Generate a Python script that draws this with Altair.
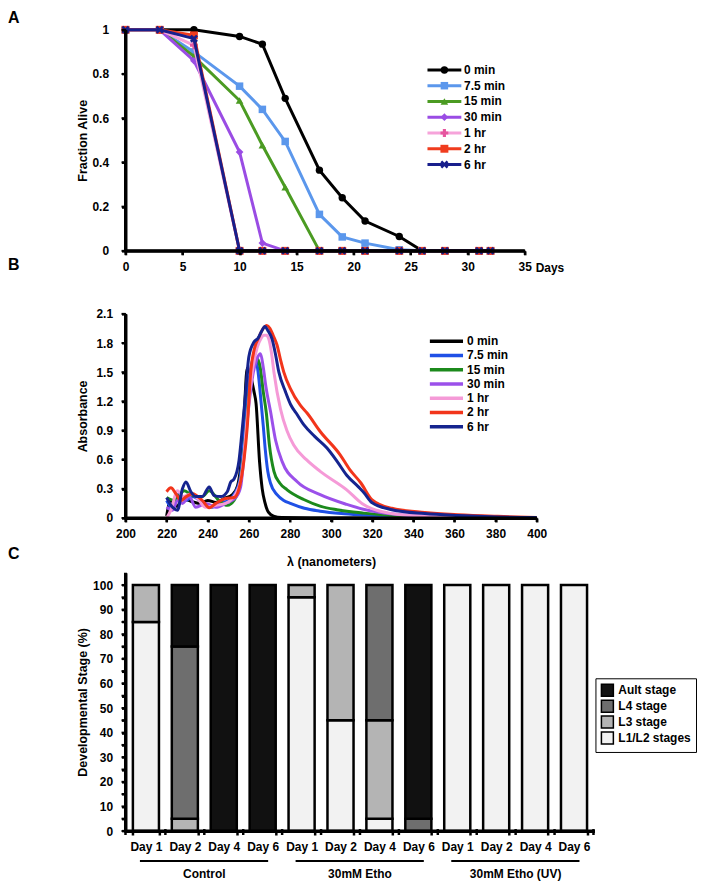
import altair as alt
import pandas as pd

FONT = "Liberation Sans"

# ---------------- Panel A : survival ----------------
days = [0, 3, 6, 10, 12, 14, 17, 19, 21, 24, 26, 28, 31, 32]
series_a = ["0 min", "7.5 min", "15 min", "30 min", "1 hr", "2 hr", "6 hr"]
alive_0min = [1, 1, 1.0, 0.97, 0.935, 0.69, 0.365, 0.24, 0.135, 0.065, 0, 0, 0, 0]
alive_7_5min = [1, 1, 0.9, 0.745, 0.64, 0.495, 0.165, 0.063, 0.035, 0.005, 0, 0, 0, 0]
alive_15min = [1, 1, 0.88, 0.68, 0.478, 0.288, 0, 0, 0, 0, 0, 0, 0, 0]
alive_30min = [1, 1, 0.86, 0.447, 0.035, 0, 0, 0, 0, 0, 0, 0, 0, 0]
alive_1hr = [1, 1, 0.93, 0, 0, 0, 0, 0, 0, 0, 0, 0, 0, 0]
alive_2hr = [1, 1, 0.975, 0, 0, 0, 0, 0, 0, 0, 0, 0, 0, 0]
alive_6hr = [1, 1, 0.96, 0, 0, 0, 0, 0, 0, 0, 0, 0, 0, 0]
alive_all = [alive_0min, alive_7_5min, alive_15min, alive_30min, alive_1hr, alive_2hr, alive_6hr]
ticks_days = [0, 5, 10, 15, 20, 25, 30, 35]
ticks_alive = [0, 0.2, 0.4, 0.6, 0.8, 1]

line_colors_a = ["#000000", "#5b97ec", "#4b9b22", "#9a4ce4", "#f6a3da", "#f03c1e", "#181f8c"]
marker_colors_a = ["#000000", "#5b97ec", "#4b9b22", "#9a4ce4", "#e6569f", "#f03c1e", "#181f8c"]
X_PATH = "M-1,-0.55L-0.55,-1L0,-0.45L0.55,-1L1,-0.55L0.45,0L1,0.55L0.55,1L0,0.45L-0.55,1L-1,0.55L-0.45,0Z"
shapes_a = ["circle", "square", "triangle-up", "diamond", "cross", "square", X_PATH]
sizes_a = [55, 65, 45, 55, 75, 55, 60]

# ---------------- Panel B : absorbance spectra ----------------
series_b = ["0 min", "7.5 min", "15 min", "30 min", "1 hr", "2 hr", "6 hr"]
nm_0min = [220, 222, 225, 228, 232, 236, 240, 244, 248, 252, 254.5, 256.5, 257.8, 259.2, 261, 262.5,
           263.5, 265.2, 266.5, 267.8, 269.5, 272, 276, 290, 400]
abs_0min = [0.02, 0.18, 0.12, 0.2, 0.17, 0.15, 0.18, 0.16, 0.2, 0.24, 0.33, 0.65, 1.1, 1.54, 1.45, 1.3,
            1.18, 0.58, 0.3, 0.16, 0.06, 0.02, 0.005, 0.0, 0.0]
nm_7_5min = [220, 223, 226, 229.4, 232.6, 237.4, 242.3, 245.5, 250.3, 253, 255.5, 257, 258.5, 260, 261.5,
             263, 264.5, 266, 267, 268, 269.2, 270.5, 273.7, 277, 280.2, 287, 294.7, 305, 315.7, 330, 350, 400]
abs_7_5min = [0.18, 0.1, 0.25, 0.18, 0.22, 0.16, 0.11, 0.15, 0.18, 0.25, 0.38, 0.65, 1.05, 1.4, 1.6,
              1.66, 1.5, 1.18, 0.95, 0.7, 0.48, 0.36, 0.24, 0.18, 0.15, 0.1, 0.07, 0.045, 0.03, 0.015, 0.006, 0]
nm_15min = [220, 223.7, 228.6, 232.6, 237.4, 240.7, 245.5, 249.5, 252.8, 256, 257.5, 259, 260.5, 262, 264,
            265.5, 267, 268.5, 270, 272.2, 275, 278.6, 286.7, 295, 302.8, 315.7, 330, 350, 400]
abs_15min = [0.21, 0.18, 0.28, 0.23, 0.22, 0.28, 0.18, 0.13, 0.18, 0.39, 0.65, 1.0, 1.35, 1.55, 1.64,
             1.55, 1.3, 1.08, 0.75, 0.48, 0.36, 0.29, 0.19, 0.12, 0.085, 0.05, 0.025, 0.01, 0]
nm_30min = [220, 222.9, 225.3, 227.7, 231, 234.2, 239, 243.9, 248.7, 253.6, 256, 257.5, 259, 260.5, 262,
            264, 265.7, 267, 268.3, 270.5, 273, 276.2, 283.4, 294.7, 307.6, 315.7, 330, 350, 400]
abs_30min = [0.11, 0.08, 0.18, 0.15, 0.22, 0.11, 0.15, 0.11, 0.15, 0.21, 0.32, 0.6, 0.95, 1.25, 1.48,
             1.64, 1.69, 1.55, 1.35, 1.1, 0.8, 0.58, 0.375, 0.24, 0.14, 0.09, 0.04, 0.015, 0]
nm_1hr = [220, 222.1, 225.3, 228, 232, 235, 239, 244, 248.7, 253.6, 256, 257.5, 259, 260.5, 262, 264, 266,
          267.3, 268.5, 269.7, 271, 272.2, 275.4, 278.5, 281.8, 288, 294.7, 307.6, 315, 329.5, 345, 370, 400]
abs_1hr = [0.0, 0.08, 0.28, 0.22, 0.25, 0.2, 0.11, 0.13, 0.15, 0.25, 0.39, 0.62, 0.98, 1.3, 1.55, 1.75, 1.85,
           1.88, 1.88, 1.84, 1.7, 1.5, 1.12, 0.9, 0.75, 0.6, 0.48, 0.29, 0.15, 0.045, 0.02, 0.008, 0]
nm_2hr = [220, 222.1, 224.5, 226.9, 229.5, 232.6, 237.4, 240.7, 243.9, 248.7, 252.8, 255.2, 257.6, 259.2,
          260.9, 262.8, 264.9, 267, 268.7, 270.3, 271.8, 273.7, 275.5, 277, 280.2, 285, 288.3, 294.7, 304.4,
          309, 314.5, 319.8, 329.5, 345.6, 361.7, 381, 400]
abs_2hr = [0.27, 0.31, 0.25, 0.18, 0.22, 0.25, 0.18, 0.105, 0.15, 0.2, 0.21, 0.3, 0.59, 0.93,
           1.5, 1.75, 1.86, 1.95, 1.98, 1.95, 1.88, 1.78, 1.62, 1.5, 1.33, 1.16, 1.08, 0.89, 0.65,
           0.5, 0.36, 0.19, 0.10, 0.057, 0.034, 0.017, 0.005]
nm_6hr = [220, 222.9, 225.3, 227.7, 229.4, 231.8, 234.2, 237.4, 240.7, 243.1, 246.3, 249.5, 251.2, 252.8,
          255.2, 256.5, 258.1, 260, 262.5, 264.5, 266.2, 267.8, 269.2, 271.3, 273, 274.6, 277.8, 280.5, 283,
          286.7, 292, 298, 303, 307.6, 313.3, 316, 319.8, 329.5, 345.6, 361.7, 381, 400]
abs_6hr = [0.21, 0.11, 0.08, 0.30, 0.37, 0.27, 0.22, 0.22, 0.32, 0.23, 0.22, 0.27, 0.37, 0.40,
           0.59, 0.85, 1.21, 1.66, 1.81, 1.85, 1.92, 1.97, 1.93, 1.84, 1.68, 1.5, 1.3, 1.16, 1.08,
           0.96, 0.84, 0.72, 0.58, 0.44, 0.32, 0.26, 0.16, 0.085, 0.045, 0.025, 0.01, 0.005]
nm_all = [nm_0min, nm_7_5min, nm_15min, nm_30min, nm_1hr, nm_2hr, nm_6hr]
abs_all = [abs_0min, abs_7_5min, abs_15min, abs_30min, abs_1hr, abs_2hr, abs_6hr]
colors_b = ["#000000", "#1f50e6", "#1c8a1c", "#9b50ea", "#f59ad7", "#f2351b", "#15248f"]
ticks_nm = [200, 220, 240, 260, 280, 300, 320, 340, 360, 380, 400]
ticks_abs = [0, 0.3, 0.6, 0.9, 1.2, 1.5, 1.8, 2.1]

# ---------------- Panel C : developmental stage ----------------
groups_c = ["Control", "30mM Etho", "30mM Etho (UV)"]
days_c = ["Day 1", "Day 2", "Day 4", "Day 6"]
stages = ["L1/L2 stages", "L3 stage", "L4 stage", "Ault stage"]
pct_l1l2 = [85, 0, 0, 0, 95, 45, 5, 0, 100, 100, 100, 100]
pct_l3 = [15, 5, 0, 0, 5, 55, 40, 0, 0, 0, 0, 0]
pct_l4 = [0, 70, 0, 0, 0, 0, 55, 5, 0, 0, 0, 0]
pct_adult = [0, 25, 100, 100, 0, 0, 0, 95, 0, 0, 0, 0]
legend_order_c = ["Ault stage", "L4 stage", "L3 stage", "L1/L2 stages"]
colors_c = ["#111111", "#6e6e6e", "#b4b4b4", "#f2f2f2"]
ticks_pct = list(range(0, 101, 5))

# ---------------- layout / style constants ----------------
WA, HA = 401, 222
WB, HB = 413, 205
WC, HC = 471, 259.4
PAD_IN, PAD_OUT = 0.33, 0.19
STEP_C = WC / (12 - PAD_IN + 2 * PAD_OUT)
AX = dict(domain=True, ticks=True, domainColor="black", domainWidth=3, domainOpacity=1,
          tickColor="black", tickWidth=2.5, tickSize=4, tickOpacity=1, grid=False, zindex=1,
          labelFlush=False, labelOverlap=False,
          labelFont=FONT, labelFontSize=12, labelFontWeight="bold", labelColor="black",
          titleFont=FONT, titleFontSize=12.5, titleFontWeight="bold", titleColor="black")
ONE = pd.DataFrame({"k": [0]})


def axis_lines(w, h):
    """Explicit axis domain lines (left and bottom) of a panel."""
    left = alt.Chart(ONE).mark_rule(color="black", strokeWidth=3).encode(
        x=alt.value(0), y=alt.value(0), y2=alt.value(h))
    bottom = alt.Chart(ONE).mark_rule(color="black", strokeWidth=3).encode(
        x=alt.value(-1.5), x2=alt.value(w), y=alt.value(h))
    return [left, bottom]


def panel_label(t, y):
    return alt.Chart(pd.DataFrame({"t": [t]})).mark_text(
        align="left", baseline="top", font=FONT, fontSize=16, fontWeight="bold", color="black").encode(
        x=alt.value(-118), y=alt.value(y), text="t:N")


# ======== build Panel A ========
rows = []
for s, vals in zip(series_a, alive_all):
    for d, v in zip(days, vals):
        rows.append({"series": s, "day": d, "alive": v})
df_a = pd.DataFrame(rows)

xa_scale = alt.Scale(domain=[0, 35], nice=False, zero=False)
xa_axis = alt.Axis(values=ticks_days, format="d", title=None, labelPadding=7, **AX)
xa = alt.X("day:Q", scale=xa_scale, axis=xa_axis)
ya_scale = alt.Scale(domain=[0, 1], nice=False)
ya_axis = alt.Y("alive:Q", scale=ya_scale,
                axis=alt.Axis(values=ticks_alive, format="~g", title="Fraction Alive",
                              labelPadding=13, titlePadding=2, **AX))
ya_none = alt.Y("alive:Q", scale=ya_scale, axis=None)
color_a = alt.Color("series:N", scale=alt.Scale(domain=series_a, range=line_colors_a), legend=None)
fill_a = alt.Fill("series:N", scale=alt.Scale(domain=series_a, range=marker_colors_a), legend=None)
shape_a = alt.Shape("series:N", scale=alt.Scale(domain=series_a, range=shapes_a), legend=None)
size_a = alt.Size("series:N", scale=alt.Scale(domain=series_a, range=sizes_a), legend=None)

layers_a = []
for i, s in enumerate(series_a):
    base = alt.Chart(df_a).transform_filter(alt.datum.series == s)
    layers_a.append(base.mark_line(strokeWidth=3).encode(
        x=xa, y=ya_axis if i == 0 else ya_none, color=color_a))
    layers_a.append(base.mark_point(filled=True, opacity=1).encode(
        x=xa, y=ya_none, fill=fill_a, shape=shape_a, size=size_a))

tick_a_x = alt.Chart(pd.DataFrame({"day": ticks_days})).mark_rule(color="black", strokeWidth=2).encode(
    x=alt.X("day:Q", scale=xa_scale, axis=xa_axis), y=alt.value(HA), y2=alt.value(HA + 4))
tick_a_y = alt.Chart(pd.DataFrame({"alive": ticks_alive})).mark_rule(color="black", strokeWidth=2).encode(
    y=ya_none, x=alt.value(-4), x2=alt.value(0))

df_leg_a = pd.DataFrame({"series": series_a})
y_leg_a = alt.Y("series:N", scale=alt.Scale(type="point", domain=series_a, range=[40.3, 135.3], padding=0),
                axis=None)
leg_a_rule = alt.Chart(df_leg_a).mark_rule(strokeWidth=3).encode(
    x=alt.value(303.3), x2=alt.value(337.3), y=y_leg_a, color=color_a)
leg_a_pt = alt.Chart(df_leg_a).mark_point(filled=True, opacity=1).encode(
    x=alt.value(320.3), y=y_leg_a, fill=fill_a, shape=shape_a, size=size_a)
leg_a_txt = alt.Chart(df_leg_a).mark_text(align="left", baseline="middle", font=FONT, fontSize=12,
                                          fontWeight="bold", color="black").encode(
    x=alt.value(340), y=y_leg_a, text="series:N")
days_txt = alt.Chart(pd.DataFrame({"t": ["Days"]})).mark_text(
    align="left", baseline="middle", font=FONT, fontSize=12, fontWeight="bold", color="black").encode(
    x=alt.value(WA + 11), y=alt.value(HA + 17), text="t:N")

chart_a = alt.layer(*layers_a, tick_a_x, tick_a_y, *axis_lines(WA, HA), leg_a_rule, leg_a_pt, leg_a_txt,
                    panel_label("A", -20), days_txt).resolve_scale(
    y="independent").properties(width=WA, height=HA)

# ======== build Panel B ========
rows = []
for s, xs, ys in zip(series_b, nm_all, abs_all):
    for x, v in zip(xs, ys):
        rows.append({"series": s, "nm": x, "absb": v})
df_b = pd.DataFrame(rows)

xb_scale = alt.Scale(domain=[200, 400], nice=False, zero=False)
xb_axis = alt.Axis(values=ticks_nm, format="d", title="λ (nanometers)", labelPadding=7, titlePadding=16, **AX)
xb = alt.X("nm:Q", scale=xb_scale, axis=xb_axis)
yb_scale = alt.Scale(domain=[0, 2.1], nice=False)
yb_axis = alt.Y("absb:Q", scale=yb_scale,
                axis=alt.Axis(values=ticks_abs, format="~g", title="Absorbance", labelPadding=9,
                              titlePadding=6, **AX))
yb_none = alt.Y("absb:Q", scale=yb_scale, axis=None)
color_b = alt.Color("series:N", scale=alt.Scale(domain=series_b, range=colors_b), legend=None)

layers_b = []
for i, s in enumerate(series_b):
    layers_b.append(alt.Chart(df_b).transform_filter(alt.datum.series == s).mark_line(
        strokeWidth=3, interpolate="monotone").encode(
        x=xb, y=yb_axis if i == 0 else yb_none, color=color_b))

tick_b_x = alt.Chart(pd.DataFrame({"nm": ticks_nm})).mark_rule(color="black", strokeWidth=2).encode(
    x=alt.X("nm:Q", scale=xb_scale, axis=xb_axis), y=alt.value(HB), y2=alt.value(HB + 4))
tick_b_y = alt.Chart(pd.DataFrame({"absb": ticks_abs})).mark_rule(color="black", strokeWidth=2).encode(
    y=yb_none, x=alt.value(-4), x2=alt.value(0))

df_leg_b = pd.DataFrame({"series": series_b})
y_leg_b = alt.Y("series:N", scale=alt.Scale(type="point", domain=series_b, range=[27.4, 113.4], padding=0),
                axis=None)
leg_b_rule = alt.Chart(df_leg_b).mark_rule(strokeWidth=3.5).encode(
    x=alt.value(305.7), x2=alt.value(339), y=y_leg_b, color=color_b)
leg_b_txt = alt.Chart(df_leg_b).mark_text(align="left", baseline="middle", font=FONT, fontSize=12,
                                          fontWeight="bold", color="black").encode(
    x=alt.value(343), y=y_leg_b, text="series:N")

chart_b = alt.layer(*layers_b, tick_b_x, tick_b_y, *axis_lines(WB, HB), leg_b_rule, leg_b_txt,
                    panel_label("B", -57)).resolve_scale(
    y="independent").properties(width=WB, height=HB)

# ======== build Panel C ========
cats = [f"{g}|{d}" for g in groups_c for d in days_c]
rows = []
for i, c in enumerate(cats):
    for k, (st, arr) in enumerate(zip(stages, [pct_l1l2, pct_l3, pct_l4, pct_adult])):
        rows.append({"cat": c, "stage": st, "pct": arr[i], "k": k})
df_c = pd.DataFrame(rows)

xc_scale = alt.Scale(domain=cats, paddingInner=PAD_IN, paddingOuter=PAD_OUT)
xc_axis = alt.Axis(title=None, labelAngle=0, labelExpr="split(datum.label, '|')[1]",
                   tickBand="extent", labelPadding=7, **AX)
xc = alt.X("cat:N", scale=xc_scale, sort=cats, axis=xc_axis)
yc_scale = alt.Scale(domain=[0, 105], nice=False)
yc_axis = alt.Axis(values=ticks_pct, title="Developmental Stage (%)",
                   labelExpr="datum.value % 10 == 0 ? datum.label : ''",
                   labelPadding=9, titlePadding=3.5, **AX)
yc = alt.Y("pct:Q", stack="zero", scale=yc_scale, axis=yc_axis)
bars = alt.Chart(df_c).transform_filter(alt.datum.pct > 0).mark_bar(
    stroke="black", strokeWidth=2.5, opacity=1).encode(
    x=xc, y=yc,
    color=alt.Color("stage:N", scale=alt.Scale(domain=legend_order_c, range=colors_c),
                    legend=alt.Legend(title=None, orient="none", legendX=472, legendY=106,
                                      direction="vertical", symbolType="square", symbolSize=144,
                                      symbolStrokeColor="black", symbolStrokeWidth=1.5,
                                      labelFont=FONT, labelFontSize=12, labelFontWeight="bold",
                                      labelColor="black", padding=5, strokeColor="black",
                                      rowPadding=-3, labelOffset=4)),
    order=alt.Order("k:Q", sort="ascending"))

tick_c_x = alt.Chart(pd.DataFrame({"cat": cats})).mark_rule(
    color="black", strokeWidth=2.5, xOffset=STEP_C * PAD_IN / 2).encode(
    x=alt.X("cat:N", scale=xc_scale, sort=cats, bandPosition=1, axis=xc_axis),
    y=alt.value(HC - 2), y2=alt.value(HC + 4))
tick_c_x0 = alt.Chart(ONE).mark_rule(color="black", strokeWidth=2.5).encode(
    x=alt.value(0), y=alt.value(HC - 2), y2=alt.value(HC + 4))
tick_c_y = alt.Chart(pd.DataFrame({"pct": ticks_pct})).mark_rule(color="black", strokeWidth=2).encode(
    y=alt.Y("pct:Q", scale=yc_scale, axis=yc_axis), x=alt.value(-4), x2=alt.value(0))

df_groups = pd.DataFrame({
    "group": groups_c,
    "first": [f"{g}|{days_c[0]}" for g in groups_c],
    "second": [f"{g}|{days_c[1]}" for g in groups_c],
    "last": [f"{g}|{days_c[-1]}" for g in groups_c],
})
g_rule = alt.Chart(df_groups).mark_rule(strokeWidth=2, color="black").encode(
    x=alt.X("first:N", scale=xc_scale, sort=cats, bandPosition=0.27, axis=xc_axis),
    x2=alt.X2("last:N", bandPosition=0.71),
    y=alt.value(HC + 30))
g_txt = alt.Chart(df_groups).mark_text(baseline="middle", font=FONT, fontSize=12, fontWeight="bold",
                                       color="black", dx=STEP_C * PAD_IN / 2).encode(
    x=alt.X("second:N", scale=xc_scale, sort=cats, bandPosition=1, axis=xc_axis),
    y=alt.value(HC + 43.5), text="group:N")

chart_c = alt.layer(bars, tick_c_x, tick_c_x0, tick_c_y, *axis_lines(WC, HC), g_rule, g_txt,
                    panel_label("C", -27)).properties(width=WC, height=HC)

res = dict(color="independent", fill="independent", shape="independent", size="independent")
inner = alt.vconcat(chart_b, chart_c, spacing=55, bounds="flush").resolve_scale(**res)
PADDING = {"left": 0, "top": 0, "right": 0, "bottom": 0}
chart = alt.vconcat(chart_a, inner, spacing=63.3, bounds="flush").resolve_scale(**res).properties(
    padding=PADDING)

chart = chart.configure(padding=PADDING).configure_view(stroke=None).configure_axis(
    domainColor="black", domainWidth=3, tickColor="black", tickWidth=2.5, tickSize=4, grid=False,
    labelFont=FONT, labelFontSize=12, labelFontWeight="bold", labelColor="black",
    titleFont=FONT, titleFontSize=12.5, titleFontWeight="bold", titleColor="black")

chart.save("out.html", embed_options={"renderer": "svg", "actions": False})
